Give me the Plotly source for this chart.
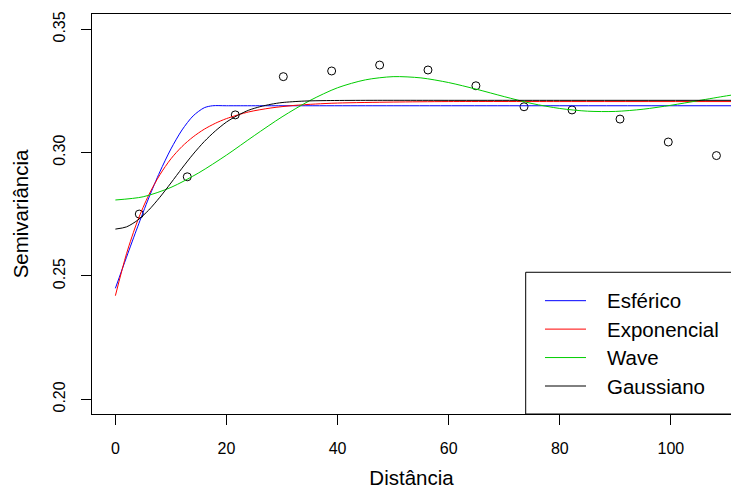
import plotly.graph_objects as go

# Empirical semivariogram (points)
dist = [4.3, 12.94, 21.58, 30.23, 38.93, 47.57, 56.27, 64.9, 73.56, 82.2, 90.84, 99.53, 108.2]
gamma = [0.2751, 0.2902, 0.3153, 0.3308, 0.3331, 0.3355, 0.3335, 0.3271, 0.3186, 0.3173, 0.3136, 0.3043, 0.2988]

# Fitted model curves
sph_x = [0, 2, 4, 6, 8, 10, 12, 14, 16, 17.5, 20, 30, 50, 80, 112]
sph_y = [0.245, 0.2576, 0.2699, 0.2816, 0.2922, 0.3015, 0.3092, 0.3149, 0.3182, 0.319,
         0.319, 0.319, 0.319, 0.319, 0.319]

exp_x = [0, 2, 4, 6, 8, 10, 12, 14, 16, 18, 20, 24, 28, 32, 36, 40, 50, 60, 80, 112]
exp_y = [0.242, 0.259, 0.2724, 0.2828, 0.291, 0.2975, 0.3025, 0.3064, 0.3095, 0.3119,
         0.3138, 0.3165, 0.3181, 0.3191, 0.3197, 0.3201, 0.3205, 0.3207, 0.3207, 0.3207]

wav_x = [0, 5, 10, 15, 20, 25, 30, 35, 40, 45, 50, 55, 60, 65, 70, 75, 80, 85, 90, 95,
         100, 105, 110, 112]
wav_y = [0.2808, 0.2821, 0.2859, 0.2918, 0.299, 0.3069, 0.3145, 0.3211, 0.3263, 0.3295,
         0.3308, 0.3303, 0.3284, 0.3257, 0.3227, 0.3199, 0.3179, 0.3168, 0.3167, 0.3176,
         0.3192, 0.3211, 0.323, 0.3237]

gau_x = [0, 2, 4, 6, 8, 10, 12, 14, 16, 18, 20, 22, 24, 26, 28, 30, 34, 38, 45, 60, 80, 112]
gau_y = [0.269, 0.2699, 0.2726, 0.2767, 0.2819, 0.2877, 0.2937, 0.2994, 0.3045, 0.3088,
         0.3124, 0.3151, 0.3172, 0.3186, 0.3196, 0.3203, 0.3209, 0.3211, 0.3212, 0.3212,
         0.3212, 0.3212]

model_names = ["Esférico", "Exponencial", "Wave", "Gaussiano"]
model_colors = ["#0000FF", "#FF0000", "#00CD00", "#000000"]
model_x = [sph_x, exp_x, wav_x, gau_x]
model_y = [sph_y, exp_y, wav_y, gau_y]

x_ticks = [0, 20, 40, 60, 80, 100]
y_ticks = [0.20, 0.25, 0.30, 0.35]

FONT = "Liberation Sans, Arial, Helvetica, sans-serif"

fig = go.Figure()
fig.add_trace(go.Scatter(
    x=dist, y=gamma, mode="markers", showlegend=False,
    marker=dict(symbol="circle-open", size=8, color="black", line=dict(width=1, color="black")),
))
for nm, col, xs, ys in zip(model_names, model_colors, model_x, model_y):
    fig.add_trace(go.Scatter(
        x=xs, y=ys, mode="lines", name=nm, showlegend=False,
        line=dict(color=col, width=1, shape="spline", smoothing=0.8),
    ))

# Manual legend box (R style, bottom right)
shapes = [dict(type="rect", xref="paper", yref="paper", x0=0.6787, x1=1.03, y0=0.0, y1=0.3543,
               line=dict(color="black", width=1), fillcolor="rgba(255,255,255,1)", layer="above")]
annotations = []
row_top = 0.2833
row_step = 0.0711
for i, (nm, col) in enumerate(zip(model_names, model_colors)):
    yy = row_top - i * row_step
    shapes.append(dict(type="line", xref="paper", yref="paper", x0=0.7089, x1=0.7731, y0=yy, y1=yy,
                       line=dict(color=col, width=1), layer="above"))
    annotations.append(dict(xref="paper", yref="paper", x=0.8024, y=yy, text=nm, showarrow=False,
                            xanchor="left", yanchor="middle",
                            font=dict(family=FONT, size=20.5, color="black")))

fig.update_layout(
    width=731, height=489,
    margin=dict(l=92, r=0, t=14, b=75),
    paper_bgcolor="white", plot_bgcolor="white",
    font=dict(family=FONT, color="black"),
    shapes=shapes, annotations=annotations,
    showlegend=False,
)
fig.update_xaxes(
    range=[-4.21, 110.82], tickvals=x_ticks, ticktext=[str(v) for v in x_ticks],
    showgrid=False, zeroline=False, showline=True, linecolor="black", linewidth=1, mirror=True,
    ticks="outside", ticklen=10, tickwidth=1, tickcolor="black",
    tickfont=dict(size=16, family=FONT), ticklabelstandoff=10,
    title=dict(text="Distância", font=dict(size=20.5, family=FONT), standoff=16),
)
fig.update_yaxes(
    range=[0.19404, 0.3562], tickvals=y_ticks, ticktext=["0.20", "0.25", "0.30", "0.35"],
    showgrid=False, zeroline=False, showline=True, linecolor="black", linewidth=1, mirror=False,
    ticks="outside", ticklen=10, tickwidth=1, tickcolor="black", tickangle=-90,
    tickfont=dict(size=16, family=FONT), ticklabelstandoff=10,
    title=dict(text="Semivariância", font=dict(size=20.5, family=FONT), standoff=16),
)

fig.write_html("out.html")
